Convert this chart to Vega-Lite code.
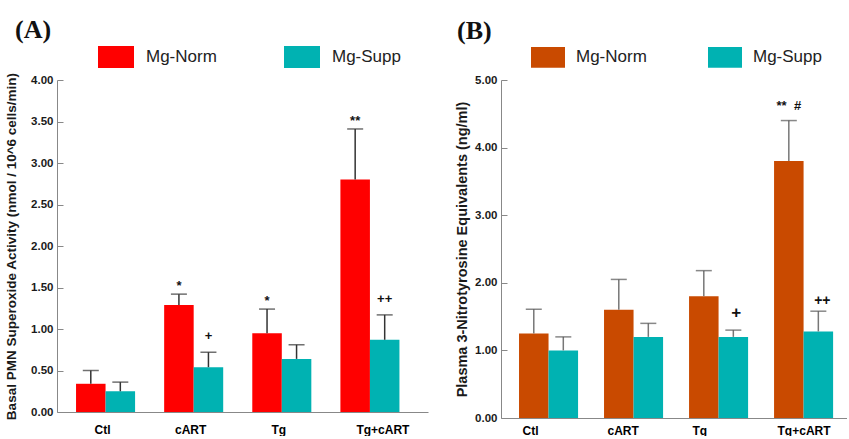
{
  "$schema": "https://vega.github.io/schema/vega-lite/v6.json",
  "background": "white",
  "padding": {"left": 4, "top": 17, "right": 0, "bottom": 0},
  "spacing": 73,
  "bounds": "flush",
  "config": {
    "view": {"stroke": null},
    "font": "Liberation Sans",
    "axis": {"domainColor": "#888888", "tickColor": "#888888", "labelColor": "#1a1a1a", "titleColor": "#1a1a1a", "labelFont": "Liberation Sans", "titleFont": "Liberation Sans", "grid": false}
  },
  "resolve": {"scale": {"color": "independent", "y": "independent"}, "legend": {"color": "independent"}},
  "hconcat": [
    {
      "width": 371,
      "height": 332,
      "title": {"text": "(A)", "anchor": "start", "frame": "group", "dx": -42, "offset": -4, "font": "Liberation Serif", "fontSize": 26, "fontWeight": "bold", "color": "#111111"},
      "data": {"values": [
        {"group": "Ctl", "series": "Mg-Norm", "value": 0.34, "err": 0.50, "note": ""},
        {"group": "Ctl", "series": "Mg-Supp", "value": 0.25, "err": 0.36, "note": ""},
        {"group": "cART", "series": "Mg-Norm", "value": 1.29, "err": 1.42, "note": "*"},
        {"group": "cART", "series": "Mg-Supp", "value": 0.54, "err": 0.72, "note": "+"},
        {"group": "Tg", "series": "Mg-Norm", "value": 0.95, "err": 1.24, "note": "*"},
        {"group": "Tg", "series": "Mg-Supp", "value": 0.64, "err": 0.81, "note": ""},
        {"group": "Tg+cART", "series": "Mg-Norm", "value": 2.80, "err": 3.41, "note": "**"},
        {"group": "Tg+cART", "series": "Mg-Supp", "value": 0.87, "err": 1.17, "note": "++"}
      ]},
      "encoding": {
        "x": {"field": "group", "type": "nominal", "sort": ["Ctl", "cART", "Tg", "Tg+cART"],
              "scale": {"paddingInner": 0.33, "paddingOuter": 0.27, "align": 0.4},
              "axis": {"title": null, "ticks": false, "labelAngle": 0, "labelFontSize": 12, "labelFontWeight": "bold", "labelColor": "#000000", "labelPadding": 12,
                       "labelOffset": {"condition": {"test": "datum.value == 'Tg+cART'", "value": 13}, "value": -3}}},
        "xOffset": {"field": "series", "type": "nominal", "sort": ["Mg-Norm", "Mg-Supp"], "scale": {"paddingInner": 0, "paddingOuter": 0}}
      },
      "layer": [
        {
          "mark": {"type": "bar"},
          "encoding": {
            "y": {"field": "value", "type": "quantitative", "scale": {"domain": [0, 4], "nice": false},
                  "axis": {"title": "Basal PMN Superoxide Activity (nmol / 10^6 cells/min)", "titleFontSize": 13.5, "titleFontWeight": "bold", "titlePadding": 12,
                           "values": [0, 0.5, 1, 1.5, 2, 2.5, 3, 3.5, 4], "format": ".2f", "labelFontSize": 11.5, "labelFontWeight": "bold", "tickSize": -6, "labelPadding": 10}},
            "color": {"field": "series", "type": "nominal", "scale": {"domain": ["Mg-Norm", "Mg-Supp"], "range": ["#ff0000", "#00b2b2"]},
                      "legend": {"title": null, "orient": "none", "legendX": 41, "legendY": -41, "direction": "horizontal", "columns": 2, "padding": 0,
                                 "symbolType": "M-1,-0.61H1V0.61H-1Z", "symbolSize": 1296, "symbolStrokeWidth": 0, "symbolOpacity": 1,
                                 "labelFontSize": 17, "labelFont": "Liberation Sans", "labelColor": "#222222", "labelOffset": 12, "columnPadding": 67}}
          }
        },
        {
          "mark": {"type": "rule", "color": "#333333", "strokeWidth": 1.5},
          "encoding": {"y": {"field": "value", "type": "quantitative"}, "y2": {"field": "err"}}
        },
        {
          "mark": {"type": "tick", "color": "#333333", "thickness": 1.5, "size": 16},
          "encoding": {"y": {"field": "err", "type": "quantitative"}}
        },
        {
          "transform": [{"filter": "datum.note == '*' || datum.note == '**'"}],
          "mark": {"type": "text", "baseline": "middle", "dy": -8, "fontSize": 13, "fontWeight": "bold", "color": "#111111"},
          "encoding": {"y": {"field": "err", "type": "quantitative"}, "text": {"field": "note"}}
        },
        {
          "transform": [{"filter": "datum.note == '+' || datum.note == '++'"}],
          "mark": {"type": "text", "baseline": "middle", "dy": -16, "fontSize": 13, "fontWeight": "bold", "color": "#111111"},
          "encoding": {"y": {"field": "err", "type": "quantitative"}, "text": {"field": "note"}}
        }
      ]
    },
    {
      "width": 346,
      "height": 338,
      "title": {"text": "(B)", "anchor": "start", "frame": "group", "dx": -44, "offset": -4, "font": "Liberation Serif", "fontSize": 26, "fontWeight": "bold", "color": "#111111"},
      "data": {"values": [
        {"group": "Ctl", "series": "Mg-Norm", "value": 1.25, "err": 1.61, "note": ""},
        {"group": "Ctl", "series": "Mg-Supp", "value": 1.00, "err": 1.20, "note": ""},
        {"group": "cART", "series": "Mg-Norm", "value": 1.60, "err": 2.05, "note": ""},
        {"group": "cART", "series": "Mg-Supp", "value": 1.20, "err": 1.40, "note": ""},
        {"group": "Tg", "series": "Mg-Norm", "value": 1.80, "err": 2.18, "note": ""},
        {"group": "Tg", "series": "Mg-Supp", "value": 1.20, "err": 1.30, "note": "+"},
        {"group": "Tg+cART", "series": "Mg-Norm", "value": 3.80, "err": 4.40, "note": "**\u00a0\u00a0#"},
        {"group": "Tg+cART", "series": "Mg-Supp", "value": 1.28, "err": 1.58, "note": "++"}
      ]},
      "encoding": {
        "x": {"field": "group", "type": "nominal", "sort": ["Ctl", "cART", "Tg", "Tg+cART"],
              "scale": {"paddingInner": 0.33, "paddingOuter": 0.2, "align": 0.53},
              "axis": {"title": null, "ticks": false, "labelAngle": 0, "labelFontSize": 12, "labelFontWeight": "bold", "labelColor": "#000000", "labelPadding": 7, "labelAlign": "left", "labelOffset": -25}},
        "xOffset": {"field": "series", "type": "nominal", "sort": ["Mg-Norm", "Mg-Supp"], "scale": {"paddingInner": 0, "paddingOuter": 0}}
      },
      "layer": [
        {
          "mark": {"type": "bar"},
          "encoding": {
            "y": {"field": "value", "type": "quantitative", "scale": {"domain": [0, 5], "nice": false},
                  "axis": {"title": "Plasma 3-Nitrotyrosine Equivalents (ng/ml)", "titleFontSize": 14.5, "titleFontWeight": "bold", "titlePadding": 5,
                           "values": [0, 0.5, 1, 1.5, 2, 2.5, 3, 3.5, 4, 4.5, 5], "format": ".2f", "labelFontSize": 11.5, "labelFontWeight": "bold", "tickSize": -6, "labelPadding": 10}},
            "color": {"field": "series", "type": "nominal", "scale": {"domain": ["Mg-Norm", "Mg-Supp"], "range": ["#c94a00", "#00b2b2"]},
                      "legend": {"title": null, "orient": "none", "legendX": 30, "legendY": -40, "direction": "horizontal", "columns": 2, "padding": 0,
                                 "symbolType": "M-1,-0.61H1V0.61H-1Z", "symbolSize": 1156, "symbolStrokeWidth": 0, "symbolOpacity": 1,
                                 "labelFontSize": 17, "labelFont": "Liberation Sans", "labelColor": "#222222", "labelOffset": 11, "columnPadding": 61}}
          }
        },
        {
          "mark": {"type": "rule", "color": "#777777", "strokeWidth": 1.5},
          "encoding": {"y": {"field": "value", "type": "quantitative"}, "y2": {"field": "err"}}
        },
        {
          "mark": {"type": "tick", "color": "#555555", "thickness": 1.5, "size": 16},
          "encoding": {"y": {"field": "err", "type": "quantitative"}}
        },
        {
          "transform": [{"filter": "datum.note == '**\u00a0\u00a0#'"}],
          "mark": {"type": "text", "baseline": "middle", "dy": -15, "fontSize": 13, "fontWeight": "bold", "color": "#111111"},
          "encoding": {"y": {"field": "err", "type": "quantitative"}, "text": {"field": "note"}}
        },
        {
          "transform": [{"filter": "datum.note == '+'"}],
          "mark": {"type": "text", "baseline": "middle", "dy": -17, "dx": 3, "fontSize": 17, "fontWeight": "bold", "color": "#111111"},
          "encoding": {"y": {"field": "err", "type": "quantitative"}, "text": {"field": "note"}}
        },
        {
          "transform": [{"filter": "datum.note == '++'"}],
          "mark": {"type": "text", "baseline": "middle", "dy": -10, "dx": 4, "fontSize": 14, "fontWeight": "bold", "color": "#111111"},
          "encoding": {"y": {"field": "err", "type": "quantitative"}, "text": {"field": "note"}}
        }
      ]
    }
  ]
}
